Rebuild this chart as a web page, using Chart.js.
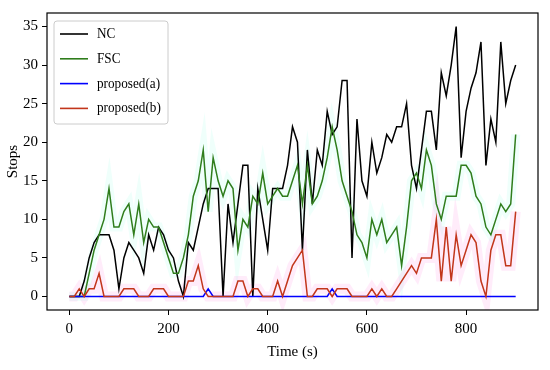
<!DOCTYPE html>
<html>
<head>
<meta charset="utf-8">
<script src="https://cdn.jsdelivr.net/npm/chart.js@4"></script>
<style>
  html, body { margin: 0; padding: 0; background: #fff; }
  #wrap { width: 550px; height: 370px; }
</style>
</head>
<body>
<div id="wrap"><canvas id="chart"></canvas></div>
<script>
// time axis (s), one sample every 10 s
var times = [0, 10, 20, 30, 40, 50, 60, 70, 80, 90,
    100, 110, 120, 130, 140, 150, 160, 170, 180, 190,
    200, 210, 220, 230, 240, 250, 260, 270, 280, 290,
    300, 310, 320, 330, 340, 350, 360, 370, 380, 390,
    400, 410, 420, 430, 440, 450, 460, 470, 480, 490,
    500, 510, 520, 530, 540, 550, 560, 570, 580, 590,
    600, 610, 620, 630, 640, 650, 660, 670, 680, 690,
    700, 710, 720, 730, 740, 750, 760, 770, 780, 790,
    800, 810, 820, 830, 840, 850, 860, 870, 880, 890,
    900];

var ncStops = [0, 0, 0, 2, 5, 7, 8, 8, 8, 6,
    1, 5, 7, 6, 5, 3, 8, 6, 9, 8,
    6, 5, 2, 0, 7, 6, 9, 12, 14, 14,
    14, 0, 12, 7, 12, 17, 17, 0, 14, 10,
    6, 14, 14, 14, 17, 22, 20, 6, 19, 12,
    19, 17, 24, 21, 22, 28, 28, 5, 23, 15,
    13, 20, 16, 18, 21, 20, 22, 22, 25, 17,
    14, 19, 24, 24, 19, 29, 26, 30, 35, 18,
    24, 27, 29, 33, 17, 23, 20, 33, 25, 28,
    30];

var fscStops = [0, 0, 0, 0, 3, 6, 8, 10, 14, 9,
    9, 11, 12, 8, 12, 7, 10, 9, 9, 7,
    5, 3, 3, 5, 8, 13, 15, 19, 11, 18,
    15, 13, 15, 14, 6, 10, 9, 13, 12, 16,
    12, 13, 14, 13, 13, 15, 17, 12, 17, 12,
    13, 15, 18, 22, 19, 15, 13, 11, 8, 7,
    5, 10, 8, 10, 7, 8, 9, 4, 9, 15,
    16, 14, 19, 17, 12, 10, 13, 13, 13, 17,
    17, 16, 13, 12, 9, 8, 10, 12, 11, 12,
    21];

var propAStops = [0, 0, 0, 0, 0, 0, 0, 0, 0, 0,
    0, 0, 0, 0, 0, 0, 0, 0, 0, 0,
    0, 0, 0, 0, 0, 0, 0, 0, 1, 0,
    0, 0, 0, 0, 0, 0, 0, 0, 0, 0,
    0, 0, 0, 0, 0, 0, 0, 0, 0, 0,
    0, 0, 0, 1, 0, 0, 0, 0, 0, 0,
    0, 0, 0, 0, 0, 0, 0, 0, 0, 0,
    0, 0, 0, 0, 0, 0, 0, 0, 0, 0,
    0, 0, 0, 0, 0, 0, 0, 0, 0, 0,
    0];

var propBStops = [0, 0, 1, 0, 1, 1, 3, 0, 0, 0,
    0, 1, 1, 1, 0, 0, 0, 1, 1, 1,
    0, 0, 0, 0, 2, 2, 4, 1, 0, 0,
    0, 0, 0, 0, 2, 2, 0, 1, 1, 0,
    0, 0, 2, 0, 2, 4, 5, 6, 0, 0,
    1, 1, 1, 0, 1, 1, 1, 0, 0, 0,
    0, 1, 0, 1, 0, 0, 1, 2, 3, 4,
    3, 5, 5, 5, 10, 2, 9, 2, 8, 4,
    6, 8, 7, 2, 0, 6, 8, 8, 4, 4,
    11];

var xTicks = [0, 200, 400, 600, 800];
var yTicks = [0, 5, 10, 15, 20, 25, 30, 35];

var seriesNames = ['NC', 'FSC', 'proposed(a)', 'proposed(b)'];
var seriesColors = ['#000000', '#2f7d1c', '#0000ff', '#c2361b'];

function pts(vals) {
    return times.map(function(t, i) { return {x: t, y: vals[i]}; });
}

var serif = '"Liberation Serif", "Times New Roman", serif';

var framePlugin = {
    id: 'frame',
    afterDraw(chart) {
        var a = chart.chartArea, c = chart.ctx;
        c.save();
        c.strokeStyle = '#000';
        c.lineWidth = 1.2;
        c.strokeRect(a.left, a.top, a.right - a.left, a.bottom - a.top);

        // legend box, upper left inside the axes
        var bx = a.left + 7, by = a.top + 8, bw = 114, bh = 103;
        c.beginPath();
        c.roundRect(bx, by, bw, bh, 3);
        c.fillStyle = 'rgba(255,255,255,0.85)';
        c.fill();
        c.strokeStyle = '#cccccc';
        c.lineWidth = 1;
        c.stroke();

        for (var i = 0; i < seriesNames.length; i++) {
            var y = by + 13 + i * 24.8;
            c.beginPath();
            c.moveTo(bx + 6, y);
            c.lineTo(bx + 34, y);
            c.strokeStyle = seriesColors[i];
            c.lineWidth = 1.6;
            c.stroke();
            // text in the source is a bit narrow, squeeze it a little
            c.save();
            c.translate(bx + 43, y);
            c.scale(0.88, 1);
            c.font = '15px ' + serif;
            c.textBaseline = 'middle';
            c.textAlign = 'left';
            c.fillStyle = '#000';
            c.fillText(seriesNames[i], 0, 0);
            c.restore();
        }
        c.restore();
    }
};

var ctx = document.getElementById('chart').getContext('2d');

new Chart(ctx, {
    type: 'line',
    plugins: [framePlugin],
    data: {
        datasets: [{
                label: 'NC',
                data: pts(ncStops),
                borderColor: seriesColors[0],
                borderWidth: 1.5,
                pointRadius: 0,
                order: 3
            },
            {
                label: 'FSC',
                data: pts(fscStops),
                borderColor: seriesColors[1],
                borderWidth: 1.5,
                pointRadius: 0,
                order: 2
            },
            {
                label: 'proposed(a)',
                data: pts(propAStops),
                borderColor: seriesColors[2],
                borderWidth: 1.5,
                pointRadius: 0,
                order: 1
            },
            {
                label: 'proposed(b)',
                data: pts(propBStops),
                borderColor: seriesColors[3],
                borderWidth: 1.5,
                pointRadius: 0,
                order: 0
            },
            {
                // faint halo behind FSC
                label: 'fsc halo',
                data: pts(fscStops),
                borderColor: 'rgba(120,255,225,0.12)',
                borderWidth: 9,
                pointRadius: 0,
                order: 5
            },
            {
                // faint halo behind proposed(b)
                label: 'b halo',
                data: pts(propBStops),
                borderColor: 'rgba(255,120,220,0.14)',
                borderWidth: 10,
                pointRadius: 0,
                order: 4
            }
        ]
    },
    options: {
        responsive: true,
        maintainAspectRatio: false,
        animation: false,
        layout: {
            padding: {left: 0, right: 12, top: 12, bottom: 0}
        },
        plugins: {
            legend: {display: false},
            tooltip: {enabled: false}
        },
        scales: {
            x: {
                type: 'linear',
                min: -45,
                max: 945,
                afterBuildTicks: function(s) {
                    s.ticks = xTicks.map(function(v) { return {value: v}; });
                },
                afterFit: function(s) { s.height = 60; },
                border: {display: false},
                grid: {
                    display: true,
                    drawOnChartArea: false,
                    drawTicks: true,
                    tickLength: 5,
                    tickColor: '#000',
                    tickWidth: 1
                },
                ticks: {
                    color: '#000',
                    padding: 5,
                    maxRotation: 0,
                    font: {size: 15, family: serif}
                },
                title: {
                    display: true,
                    text: 'Time (s)',
                    color: '#000',
                    padding: {top: 0, bottom: 9},
                    font: {size: 15, family: serif}
                }
            },
            y: {
                min: -1.75,
                max: 36.75,
                afterBuildTicks: function(s) {
                    s.ticks = yTicks.map(function(v) { return {value: v}; });
                },
                afterFit: function(s) { s.width = 47; },
                border: {display: false},
                grid: {
                    display: true,
                    drawOnChartArea: false,
                    drawTicks: true,
                    tickLength: 5,
                    tickColor: '#000',
                    tickWidth: 1
                },
                ticks: {
                    color: '#000',
                    padding: 4,
                    font: {size: 15, family: serif}
                },
                title: {
                    display: true,
                    text: 'Stops',
                    color: '#000',
                    padding: {top: 4, bottom: 0},
                    font: {size: 15, family: serif}
                }
            }
        }
    }
});
</script>
</body>
</html>
